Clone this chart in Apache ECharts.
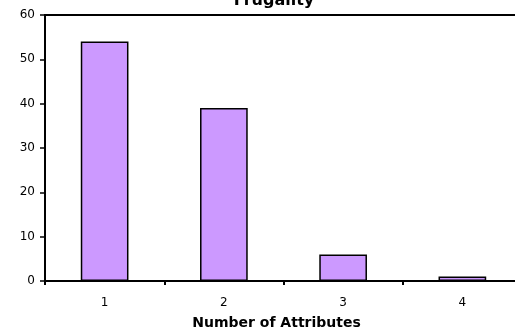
<!DOCTYPE html>
<html>
<head>
<meta charset="utf-8">
<script src="https://cdn.jsdelivr.net/npm/echarts@6/dist/echarts.min.js"></script>
<style>
  html, body { margin: 0; padding: 0; background: #fff; overflow: hidden; }
  #chart { width: 515px; height: 332px; }
</style>
</head>
<body>
<div id="chart"></div>
<script>
// Frugality: count per number of attributes
const categories = ['1', '2', '3', '4'];
const counts = [54, 39, 6, 1];
const yTicks = { min: 0, max: 60, interval: 10 };

const chart = echarts.init(document.getElementById('chart'), null, { renderer: 'canvas' });
const font = '"DejaVu Sans", Verdana, sans-serif';

chart.setOption({
  animation: false,
  title: {
    text: 'Frugality',
    left: 269, top: -12,
    textAlign: 'center',
    textStyle: { fontFamily: font, fontSize: 16, fontWeight: 'bold', color: '#000' }
  },
  grid: {
    left: 45, width: 477, top: 15, bottom: 51,
    containLabel: false,
    outerBoundsMode: 'none',
    show: true, borderColor: '#000', borderWidth: 2, backgroundColor: '#fff'
  },
  xAxis: {
    type: 'category',
    data: categories,
    name: 'Number of Attributes',
    nameLocation: 'middle',
    nameGap: 35,
    nameTextStyle: { fontFamily: font, fontSize: 14, fontWeight: 'bold', color: '#000', padding: [0, 14, 0, 0] },
    axisLine: { lineStyle: { color: '#000', width: 2 } },
    axisTick: { show: true, length: 4, lineStyle: { color: '#000', width: 2 } },
    axisLabel: { fontFamily: font, fontSize: 12, color: '#000', margin: 16 }
  },
  yAxis: {
    type: 'value',
    min: yTicks.min, max: yTicks.max, interval: yTicks.interval,
    splitLine: { show: false },
    axisLine: { show: true, lineStyle: { color: '#000', width: 2 } },
    axisTick: { show: true, length: 5, lineStyle: { color: '#000', width: 1.5 } },
    axisLabel: { fontFamily: font, fontSize: 12, color: '#000', margin: 10 }
  },
  series: [{
    type: 'bar',
    data: counts,
    barWidth: '40%',
    itemStyle: { color: '#cc99ff', borderColor: '#000', borderWidth: 1.5 }
  }]
});
</script>
</body>
</html>
